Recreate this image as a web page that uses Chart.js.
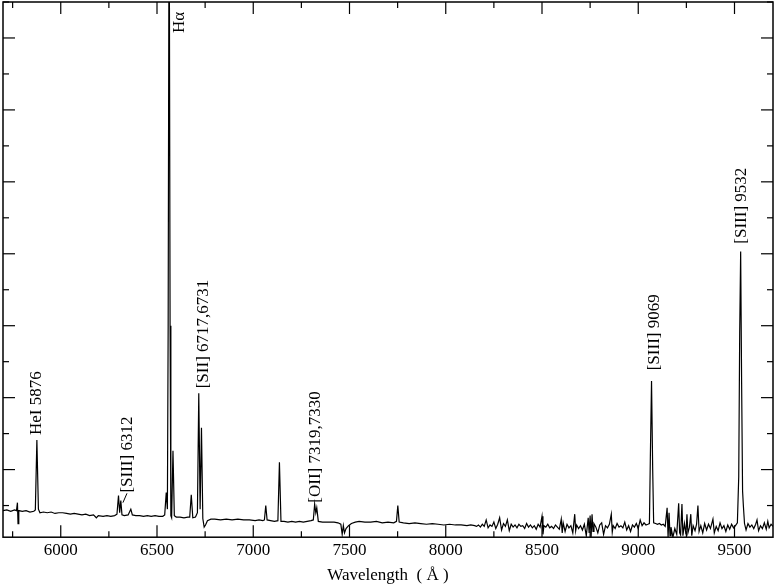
<!DOCTYPE html>
<html>
<head>
<meta charset="utf-8">
<script src="https://cdn.jsdelivr.net/npm/chart.js@4"></script>
<style>
  html, body { margin: 0; padding: 0; background: #fff; }
  #wrap { width: 775px; height: 586px; }
</style>
</head>
<body>
<div id="wrap"><canvas id="spec" width="775" height="586"></canvas></div>
<script>
// espectro: [comprimento de onda (Å), fluxo (unid. arbitrárias)]
const spectrum = [
  [5700,0.43],[5720,0.44],[5740,0.42],[5760,0.44],[5770,0.43],[5775,0.54],[5778,0.25],[5782,0.43],
  [5800,0.42],[5820,0.43],[5840,0.41],[5860,0.42],[5868,0.44],[5876,1.41],[5884,0.45],[5892,0.40],
  [5910,0.41],[5930,0.40],[5950,0.41],[5970,0.39],[5990,0.40],[6010,0.40],[6030,0.39],[6050,0.38],
  [6070,0.39],[6090,0.38],[6110,0.37],[6130,0.38],[6150,0.36],[6170,0.37],[6185,0.33],[6195,0.36],
  [6220,0.35],[6240,0.36],[6260,0.35],[6280,0.36],[6292,0.38],[6300,0.64],[6306,0.40],[6312,0.57],
  [6318,0.37],[6330,0.36],[6350,0.37],[6364,0.45],[6372,0.37],[6390,0.36],[6410,0.36],[6430,0.35],
  [6450,0.36],[6470,0.35],[6490,0.36],[6510,0.35],[6530,0.35],[6540,0.37],[6548,0.68],[6554,0.45],
  [6558,3.0],[6563,9.5],[6568,3.0],[6572,0.36],[6576,0.33],[6583,1.26],[6590,0.36],[6600,0.34],
  [6620,0.34],[6640,0.33],[6660,0.34],[6670,0.34],[6678,0.65],[6686,0.33],[6700,0.34],[6710,0.40],
  [6717,2.06],[6724,0.45],[6731,1.58],[6738,0.32],[6745,0.20],[6752,0.23],[6762,0.29],[6780,0.31],
  [6800,0.31],[6830,0.30],[6860,0.31],[6890,0.30],[6920,0.31],[6950,0.30],[6980,0.30],[7010,0.29],
  [7030,0.30],[7050,0.29],[7058,0.30],[7065,0.50],[7072,0.30],[7090,0.29],[7110,0.28],[7128,0.29],
  [7136,1.10],[7144,0.28],[7160,0.28],[7180,0.27],[7200,0.28],[7220,0.27],[7240,0.28],[7260,0.27],
  [7280,0.28],[7300,0.29],[7312,0.30],[7319,0.52],[7325,0.40],[7330,0.47],[7338,0.28],[7360,0.27],
  [7380,0.27],[7400,0.27],[7420,0.27],[7440,0.26],[7455,0.24],[7462,0.10],[7468,0.22],[7474,0.12],
  [7482,0.18],[7495,0.22],[7510,0.25],[7530,0.27],[7550,0.28],[7580,0.27],[7610,0.27],[7640,0.28],
  [7670,0.26],[7700,0.27],[7730,0.26],[7744,0.28],[7751,0.50],[7758,0.27],[7780,0.26],[7810,0.25],
  [7840,0.26],[7870,0.25],[7900,0.24],[7930,0.25],[7960,0.24],[7990,0.23],[8020,0.24],[8050,0.23],
  [8080,0.23],[8110,0.22],[8130,0.23],[8150,0.22],[8160,0.21],[8170,0.23],[8180,0.20],[8190,0.24],
  [8200,0.21],[8210,0.30],[8220,0.19],[8230,0.23],[8240,0.21],[8250,0.27],[8260,0.18],[8270,0.24],
  [8280,0.33],[8290,0.16],[8300,0.25],[8310,0.21],[8320,0.30],[8330,0.15],[8340,0.24],[8350,0.20],
  [8360,0.23],[8370,0.19],[8380,0.24],[8390,0.21],[8400,0.22],[8410,0.18],[8420,0.25],[8430,0.20],
  [8440,0.23],[8450,0.19],[8460,0.22],[8470,0.17],[8480,0.24],[8490,0.20],[8500,0.35],[8505,0.10],
  [8510,0.22],[8520,0.20],[8530,0.24],[8540,0.19],[8550,0.21],[8560,0.18],[8570,0.23],[8580,0.20],
  [8590,0.17],[8600,0.31],[8605,0.12],[8610,0.26],[8620,0.14],[8630,0.24],[8640,0.19],[8650,0.22],
  [8660,0.12],[8670,0.38],[8675,0.15],[8680,0.23],[8690,0.18],[8700,0.22],[8710,0.16],[8720,0.24],
  [8730,0.08],[8740,0.33],[8745,0.12],[8750,0.36],[8755,0.06],[8760,0.38],[8765,0.14],[8770,0.25],
  [8780,0.20],[8790,0.12],[8800,0.23],[8810,0.26],[8820,0.10],[8830,0.22],[8840,0.19],[8850,0.24],
  [8860,0.38],[8865,0.13],[8870,0.22],[8880,0.18],[8890,0.25],[8900,0.20],[8910,0.22],[8920,0.19],
  [8930,0.27],[8940,0.16],[8950,0.22],[8960,0.14],[8970,0.23],[8980,0.20],[8990,0.25],[9000,0.18],
  [9010,0.30],[9020,0.22],[9030,0.26],[9040,0.23],[9050,0.24],[9058,0.25],[9063,1.20],[9069,2.23],
  [9075,1.00],[9080,0.26],[9090,0.25],[9100,0.24],[9110,0.25],[9120,0.23],[9130,0.24],[9140,0.21],
  [9150,0.47],[9155,0.06],[9160,0.40],[9165,0.08],[9170,0.20],[9180,0.06],[9190,0.18],[9200,0.10],
  [9210,0.53],[9215,0.12],[9220,0.09],[9227,0.52],[9232,0.08],[9240,0.25],[9248,0.10],[9253,0.38],
  [9258,0.12],[9266,0.20],[9273,0.38],[9278,0.08],[9285,0.22],[9295,0.15],[9303,0.24],[9310,0.50],
  [9316,0.14],[9325,0.22],[9335,0.12],[9345,0.25],[9355,0.16],[9365,0.24],[9375,0.18],[9388,0.31],
  [9395,0.12],[9405,0.21],[9415,0.15],[9425,0.26],[9435,0.18],[9445,0.22],[9455,0.14],[9465,0.23],
  [9475,0.17],[9485,0.24],[9495,0.19],[9505,0.22],[9515,0.26],[9522,0.90],[9527,2.90],[9532,4.03],
  [9537,2.20],[9542,0.70],[9546,0.50],[9552,0.25],[9560,0.16],[9570,0.25],[9580,0.20],[9590,0.23],
  [9600,0.18],[9610,0.24],[9617,0.30],[9625,0.15],[9635,0.22],[9645,0.18],[9655,0.26],[9665,0.17],
  [9673,0.28],[9680,0.19],[9690,0.24],[9700,0.21]
];

const xTicks = [6000, 6500, 7000, 7500, 8000, 8500, 9000, 9500];
const xMinorTicks = [5750, 6250, 6750, 7250, 7750, 8250, 8750, 9250];
const yTicks = [1, 2, 3, 4, 5, 6, 7];
const yMinorTicks = [0.5, 1.5, 2.5, 3.5, 4.5, 5.5, 6.5, 7.5];

// identificação das linhas: texto, λ da âncora, fluxo da base do texto
const lineNames = ['HeI 5876', '[SIII] 6312', 'H\u03b1', '[SII] 6717,6731', '[OII] 7319,7330', '[SIII] 9069', '[SIII] 9532'];
const lineAnchorWave = [5876, 6349, 6619, 6744, 7326, 9082, 9539];
const lineAnchorFlux = [1.48, 0.68, 7.07, 2.13, 0.54, 2.38, 4.14];

const SERIF = '"Liberation Serif", "DejaVu Serif", serif';

// moldura, marcas internas e rótulos das linhas
const framePlugin = {
  id: 'frame',
  afterDraw(chart) {
    const { ctx, chartArea: a, scales } = chart;
    const xs = scales.x, ys = scales.y;
    ctx.save();
    ctx.strokeStyle = '#000';
    ctx.lineWidth = 1.5;
    ctx.strokeRect(a.left, a.top, a.right - a.left, a.bottom - a.top);

    ctx.lineWidth = 1.2;
    const tick = (x1, y1, x2, y2) => { ctx.beginPath(); ctx.moveTo(x1, y1); ctx.lineTo(x2, y2); ctx.stroke(); };
    xTicks.forEach(v => { const p = xs.getPixelForValue(v); tick(p, a.bottom, p, a.bottom - 12); tick(p, a.top, p, a.top + 12); });
    xMinorTicks.forEach(v => { const p = xs.getPixelForValue(v); tick(p, a.bottom, p, a.bottom - 6); tick(p, a.top, p, a.top + 6); });
    yTicks.forEach(v => { const p = ys.getPixelForValue(v); tick(a.left, p, a.left + 12, p); tick(a.right, p, a.right - 12, p); });
    yMinorTicks.forEach(v => { const p = ys.getPixelForValue(v); tick(a.left, p, a.left + 6, p); tick(a.right, p, a.right - 6, p); });

    // pequena linha de chamada do [SIII] 6312
    ctx.lineWidth = 1;
    tick(xs.getPixelForValue(6323), ys.getPixelForValue(0.54), xs.getPixelForValue(6344), ys.getPixelForValue(0.67));

    ctx.fillStyle = '#000';
    ctx.font = '17px ' + SERIF;
    ctx.textAlign = 'left';
    ctx.textBaseline = 'middle';
    lineNames.forEach((txt, i) => {
      ctx.save();
      ctx.translate(xs.getPixelForValue(lineAnchorWave[i]), ys.getPixelForValue(lineAnchorFlux[i]));
      ctx.rotate(-Math.PI / 2);
      ctx.fillText(txt, 0, 0);
      ctx.restore();
    });
    ctx.restore();
  }
};

new Chart(document.getElementById('spec'), {
  type: 'line',
  data: {
    datasets: [{
      data: spectrum.map(p => ({ x: p[0], y: p[1] })),
      borderColor: '#000',
      borderWidth: 1.2,
      pointRadius: 0,
      tension: 0,
      fill: false
    }]
  },
  options: {
    responsive: false,
    animation: false,
    layout: { padding: { top: 2, left: 3, right: 2, bottom: 0 } },
    plugins: { legend: { display: false }, tooltip: { enabled: false } },
    scales: {
      x: {
        type: 'linear',
        min: 5700,
        max: 9700,
        afterBuildTicks: s => { s.ticks = xTicks.map(v => ({ value: v })); },
        grid: { display: false, drawTicks: false },
        border: { display: false },
        ticks: {
          color: '#000',
          padding: 3,
          maxRotation: 0,
          font: { family: SERIF, size: 17 },
          callback: v => String(v)
        },
        title: {
          display: true,
          text: 'Wavelength  ( \u00c5 )',
          color: '#000',
          padding: { top: 2, bottom: 0 },
          font: { family: SERIF, size: 17 }
        }
      },
      y: {
        type: 'linear',
        display: false,
        min: 0.06,
        max: 7.5
      }
    }
  },
  plugins: [framePlugin]
});
</script>
</body>
</html>
